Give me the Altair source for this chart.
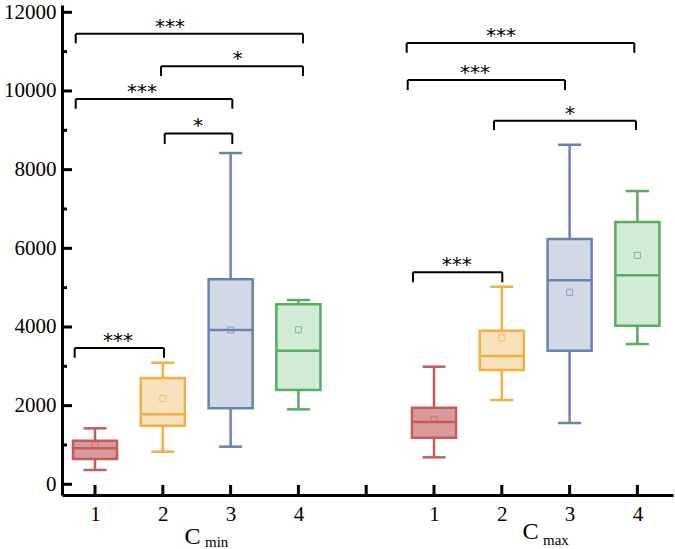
import altair as alt
import pandas as pd

# ---- box plot data ----
positions = [1, 2, 3, 4, 6, 7, 8, 9]
series = ["s1", "s2", "s3", "s4", "s1", "s2", "s3", "s4"]
whisker_low = [364, 829, 956, 1906, 686, 2143, 1558, 3566]
q1 = [643, 1490, 1932, 2397, 1185, 2905, 3396, 4032]
median = [915, 1779, 3922, 3396, 1584, 3261, 5186, 5313]
q3 = [1108, 2702, 5211, 4575, 1947, 3905, 6236, 6668]
whisker_high = [1423, 3091, 8422, 4685, 2990, 5023, 8633, 7456]
mean = [999, 2186, 3922, 3930, 1652, 3719, 4881, 5820]

series_domain = ["s1", "s2", "s3", "s4"]
edge_colors = ["#c65b5b", "#f0b042", "#6a82b0", "#5cab62"]
fill_colors = ["#d99a9b", "#f8e2bd", "#d2d9e6", "#d2ebd5"]

# ---- significance brackets ----
br_x1 = [0.715, 1.973, 0.715, 2.028, 0.70, 5.597, 5.612, 6.885, 5.69]
br_x2 = [4.068, 4.068, 3.025, 3.025, 2.018, 8.954, 7.932, 8.979, 7.007]
br_y = [11453, 10626, 9794, 8922, 3465, 11219, 10278, 9243, 5389]
br_leg = [11210, 10379, 9548, 8650, 3218, 10971, 10023, 9006, 5135]
br_label = ["***", "*", "***", "*", "***", "***", "***", "*", "***"]
br_star_x = [2.106, 3.105, 1.693, 2.519, 1.339, 6.988, 6.605, 8.006, 6.335]

# ---- axes ----
x_tick_values = [1, 2, 3, 4, 5, 6, 7, 8, 9]
y_major = [0, 2000, 4000, 6000, 8000, 10000, 12000]
y_minor = [1000, 3000, 5000, 7000, 9000, 11000]
group_titles = ["C", "C"]
group_subs = ["min", "max"]

BOX_HALF = 0.325
CAP_HALF = 0.17

df = pd.DataFrame({
    "pos": positions, "series": series, "low": whisker_low, "q1": q1,
    "med": median, "q3": q3, "high": whisker_high, "mean": mean,
})
br = pd.DataFrame({"x1": br_x1, "x2": br_x2, "y": br_y, "leg": br_leg,
                   "label": br_label, "sx": br_star_x})

SERIF = "Liberation Serif"

xs = alt.Scale(domain=[0.513, 9.525], nice=False, zero=False)
ys = alt.Scale(domain=[-272, 12186], nice=False, zero=False)
stroke_scale = alt.Scale(domain=series_domain, range=edge_colors)
fill_scale = alt.Scale(domain=series_domain, range=fill_colors)

X_AX = alt.Axis(
    values=x_tick_values, ticks=False, grid=False, domainWidth=3,
    domainColor="black", labelFont=SERIF, labelFontSize=21, labelColor="black",
    labelPadding=8, labelFlush=False, labelOverlap=False, title=None,
    labelExpr="datum.value < 5 ? datum.value : (datum.value > 5 ? datum.value - 5 : '')")
Y_AX = alt.Axis(
    values=y_major, ticks=False, grid=False, domainWidth=3, domainColor="black",
    labelFont=SERIF, labelFontSize=21, labelColor="black", labelPadding=6,
    title=None, format="d")


def X(f):
    return alt.X(f, scale=xs, axis=X_AX, title=None)


def Y(f):
    return alt.Y(f, scale=ys, axis=Y_AX, title=None)


def S():
    return alt.Stroke("series:N", scale=stroke_scale, legend=None)


base = alt.Chart(df).transform_calculate(
    blo=f"datum.pos - {BOX_HALF}", bhi=f"datum.pos + {BOX_HALF}",
    clo=f"datum.pos - {CAP_HALF}", chi=f"datum.pos + {CAP_HALF}",
)

boxes = base.mark_rect(strokeWidth=2.5).encode(
    x=X("blo:Q"), x2="bhi:Q", y=Y("q1:Q"), y2="q3:Q",
    fill=alt.Fill("series:N", scale=fill_scale, legend=None), stroke=S())
whisk_lo = base.mark_rule(strokeWidth=2.5).encode(
    x=X("pos:Q"), y=Y("low:Q"), y2="q1:Q", stroke=S())
whisk_hi = base.mark_rule(strokeWidth=2.5).encode(
    x=X("pos:Q"), y=Y("q3:Q"), y2="high:Q", stroke=S())
cap_lo = base.mark_rule(strokeWidth=2.5).encode(
    x=X("clo:Q"), x2="chi:Q", y=Y("low:Q"), stroke=S())
cap_hi = base.mark_rule(strokeWidth=2.5).encode(
    x=X("clo:Q"), x2="chi:Q", y=Y("high:Q"), stroke=S())
med_line = base.mark_rule(strokeWidth=2.5).encode(
    x=X("blo:Q"), x2="bhi:Q", y=Y("med:Q"), stroke=S())
mean_pt = base.mark_point(shape="square", filled=False, size=36, strokeWidth=1, opacity=0.7).encode(
    x=X("pos:Q"), y=Y("mean:Q"), stroke=S())

bc = alt.Chart(br)
br_h = bc.mark_rule(color="black", strokeWidth=2).encode(
    x=X("x1:Q"), x2="x2:Q", y=Y("y:Q"))
br_l = bc.mark_rule(color="black", strokeWidth=2).encode(
    x=X("x1:Q"), y=Y("y:Q"), y2="leg:Q")
br_r = bc.mark_rule(color="black", strokeWidth=2).encode(
    x=X("x2:Q"), y=Y("y:Q"), y2="leg:Q")
br_t = bc.mark_text(font="DejaVu Sans", fontSize=20, color="black", baseline="alphabetic",
                    align="center", dy=-1).encode(
    x=X("sx:Q"), y=Y("y:Q"), text="label:N")

# inward ticks
ymaj = alt.Chart(pd.DataFrame({"v": y_major})).mark_rule(color="black", strokeWidth=3).encode(
    y=Y("v:Q"), x=alt.value(0), x2=alt.value(10))
ymin = alt.Chart(pd.DataFrame({"v": y_minor})).mark_rule(color="black", strokeWidth=3).encode(
    y=Y("v:Q"), x=alt.value(0), x2=alt.value(5))
xt = alt.Chart(pd.DataFrame({"v": x_tick_values})).mark_rule(color="black", strokeWidth=3).encode(
    x=X("v:Q"), y=alt.value(490), y2=alt.value(480))

# group titles with subscripts
t1 = alt.Chart(pd.DataFrame({"t": [group_titles[0]]})).mark_text(
    font=SERIF, fontSize=24, align="center", baseline="alphabetic", color="black").encode(
    x=alt.value(130.5), y=alt.value(539), text="t:N")
s1 = alt.Chart(pd.DataFrame({"t": [group_subs[0]]})).mark_text(
    font=SERIF, fontSize=15, align="left", baseline="alphabetic", color="black").encode(
    x=alt.value(143), y=alt.value(542), text="t:N")
t2 = alt.Chart(pd.DataFrame({"t": [group_titles[1]]})).mark_text(
    font=SERIF, fontSize=24, align="center", baseline="alphabetic", color="black").encode(
    x=alt.value(468.5), y=alt.value(534), text="t:N")
s2 = alt.Chart(pd.DataFrame({"t": [group_subs[1]]})).mark_text(
    font=SERIF, fontSize=15, align="left", baseline="alphabetic", color="black").encode(
    x=alt.value(481), y=alt.value(540), text="t:N")

chart = alt.layer(
    whisk_lo, whisk_hi, cap_lo, cap_hi, boxes, med_line, mean_pt,
    br_h, br_l, br_r, br_t, ymaj, ymin, xt, t1, s1, t2, s2,
).properties(
    width=611, height=490,
    autosize=alt.AutoSizeParams(type="none"),
    padding={"left": 62, "top": 5, "right": 2, "bottom": 54},
    background="white",
).configure_view(stroke=None)

chart.save("out.html", embed_options={"renderer": "svg", "actions": False})
